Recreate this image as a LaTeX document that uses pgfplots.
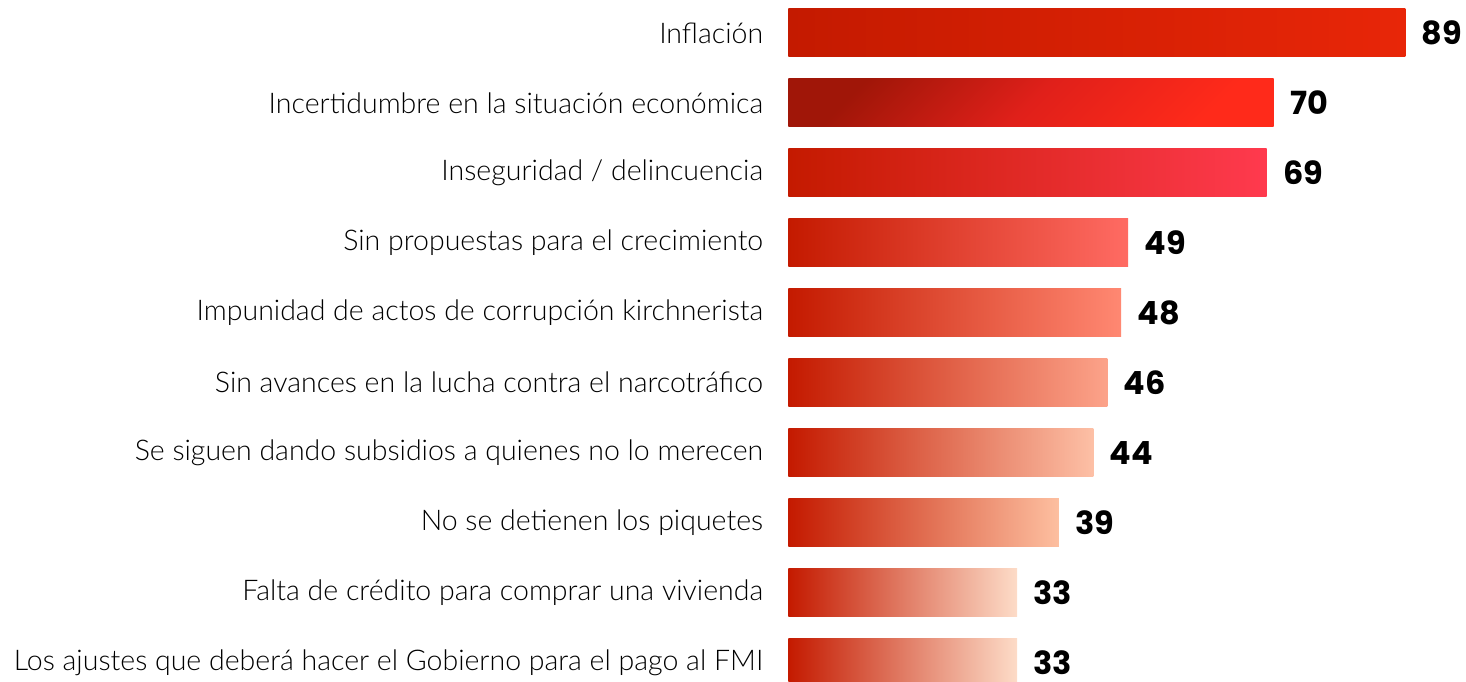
\documentclass[border={7pt 0pt 2pt 0pt}]{standalone}
\usepackage{fontspec}
\setmainfont{Lato Light}
\newfontfamily\numfont{Poppins}
\usepackage{pgfplots}
\pgfplotsset{compat=1.18}
\definecolor{dk}{HTML}{C41A00}
\begin{document}
\begin{tikzpicture}
\begin{axis}[
  scale only axis,
  width=330.4pt, height=342pt,
  xmin=0, xmax=95,
  y dir=reverse,
  ymin=-0.47, ymax=9.274,
  axis x line=none,
  axis y line*=left,
  y axis line style={draw=none},
  ytick style={draw=none},
  major tick length=0pt,
  ytick={0,...,9},
  yticklabels={Inflación,Incertidumbre en la situación económica,Inseguridad / delincuencia,Sin propuestas para el crecimiento,Impunidad de actos de corrupción kirchnerista,Sin avances en la lucha contra el narcotráfico,Se siguen dando subsidios a quienes no lo merecen,No se detienen los piquetes,Falta de crédito para comprar una vivienda,Los ajustes que deberá hacer el Gobierno para el pago al FMI},
  yticklabel style={font=\fontsize{14.3}{16}\selectfont, text=black, anchor=east, inner xsep=0pt, inner ysep=0pt, xshift=-12.5pt},
  xbar, bar width=0.684, bar shift=0pt,
  /pgf/number format/assume math mode=true,
  nodes near coords,
  every node near coord/.append style={font=\numfont\bfseries\fontsize{16}{17}\selectfont, text=black, anchor=west, inner xsep=0pt, inner ysep=0pt, xshift=8pt},
  clip mode=individual,
]
\addplot[draw=none, left color=dk, right color={rgb,255:red,232;green,38;blue,8}] coordinates {(89,0)};
\addplot[draw=none, left color={rgb,255:red,160;green,22;blue,8}, right color={rgb,255:red,255;green,42;blue,26}, middle color={rgb,255:red,224;green,32;blue,26}, shading angle=45] coordinates {(70,1)};
\addplot[draw=none, left color=dk, right color={rgb,255:red,255;green,58;blue,78}] coordinates {(69,2)};
\addplot[draw=none, left color=dk, right color={rgb,255:red,255;green,107;blue,99}] coordinates {(49,3)};
\addplot[draw=none, left color=dk, right color={rgb,255:red,255;green,136;blue,114}] coordinates {(48,4)};
\addplot[draw=none, left color=dk, right color={rgb,255:red,252;green,163;blue,138}] coordinates {(46,5)};
\addplot[draw=none, left color=dk, right color={rgb,255:red,253;green,192;blue,166}] coordinates {(44,6)};
\addplot[draw=none, left color=dk, right color={rgb,255:red,253;green,191;blue,160}] coordinates {(39,7)};
\addplot[draw=none, left color=dk, right color={rgb,255:red,253;green,220;blue,200}] coordinates {(33,8)};
\addplot[draw=none, left color=dk, right color={rgb,255:red,253;green,220;blue,200}] coordinates {(33,9)};
\end{axis}
\end{tikzpicture}
\end{document}
